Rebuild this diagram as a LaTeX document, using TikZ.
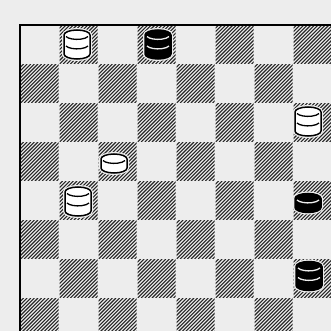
\documentclass[tikz,border=0pt]{standalone}
\definecolor{paper}{gray}{0.93}
\definecolor{ink}{gray}{0.15}

\begin{document}
\begin{tikzpicture}[x=1pt, y=-1pt,
		hatch/.style={draw=ink, line width=1.1pt},
		halo/.style={draw=paper, line width=4pt},
		pics/man/.style 2 args={code={
			\path[halo] (-13,0) arc[start angle=180, end angle=0, x radius=13, y radius=5] -- ++(0,-9) arc[start angle=0, end angle=-180, x radius=13, y radius=5] -- cycle;
			\path[fill=#1, draw=black, line width=1.5pt] (-13,0) arc[start angle=180, end angle=0, x radius=13, y radius=5] -- ++(0,-9) arc[start angle=0, end angle=-180, x radius=13, y radius=5] -- cycle;
			\draw[#2, line width=1.3pt] (-11,-7.5) arc[start angle=160, end angle=20, x radius=11.7, y radius=4.4];
		}},
		pics/king/.style 2 args={code={
			\path[halo] (-13,0) arc[start angle=180, end angle=0, x radius=13, y radius=5] -- ++(0,-19) arc[start angle=0, end angle=-180, x radius=13, y radius=5] -- cycle;
			\path[fill=#1, draw=black, line width=1.5pt] (-13,0) arc[start angle=180, end angle=0, x radius=13, y radius=5] -- ++(0,-19) arc[start angle=0, end angle=-180, x radius=13, y radius=5] -- cycle;
			\draw[#2, line width=1.3pt] (-11,-17.5) arc[start angle=160, end angle=20, x radius=11.7, y radius=4.4];
			\draw[#2, line width=1.3pt] (-11,-8) arc[start angle=160, end angle=20, x radius=11.7, y radius=4.4];
		}}]
		
		\useasboundingbox (0,0) rectangle (331,331);
		\clip (0,0) rectangle (331,331);
		\fill[paper] (0,0) rectangle (331,331);
		
		% dunkle Felder (schraffiert)
		\foreach \r in {0,...,7}
		\foreach \c in {0,...,7} {
			\pgfmathtruncatemacro\odd{mod(\r+\c,2)}
			\ifnum\odd=1
			\begin{scope}
				\clip (20+39*\c+0.5, 25+39*\r+0.5) rectangle ++(38,38);
				\foreach \k in {0,3.6,...,79}
				\draw[hatch] (20+39*\c-39+\k, 25+39*\r+39) -- ++(39,-39);
			\end{scope}
			\fi
		}
		
		% Rand
		\draw[line width=2.2pt] (20,331) -- (20,25) -- (331,25);
		
		% weisse Steine
		\pic at (77,54) {king={white}{black}};
		\pic at (308,131) {king={white}{black}};
		\pic at (114,168) {man={white}{black}};
		\pic at (78,211) {king={white}{black}};
		
		% schwarze Steine
		\pic at (158,54) {king={black}{paper}};
		\pic at (308,207.5) {man={black}{paper}};
		\pic at (309,285.5) {king={black}{paper}};
		
	\end{tikzpicture}
\end{document}
